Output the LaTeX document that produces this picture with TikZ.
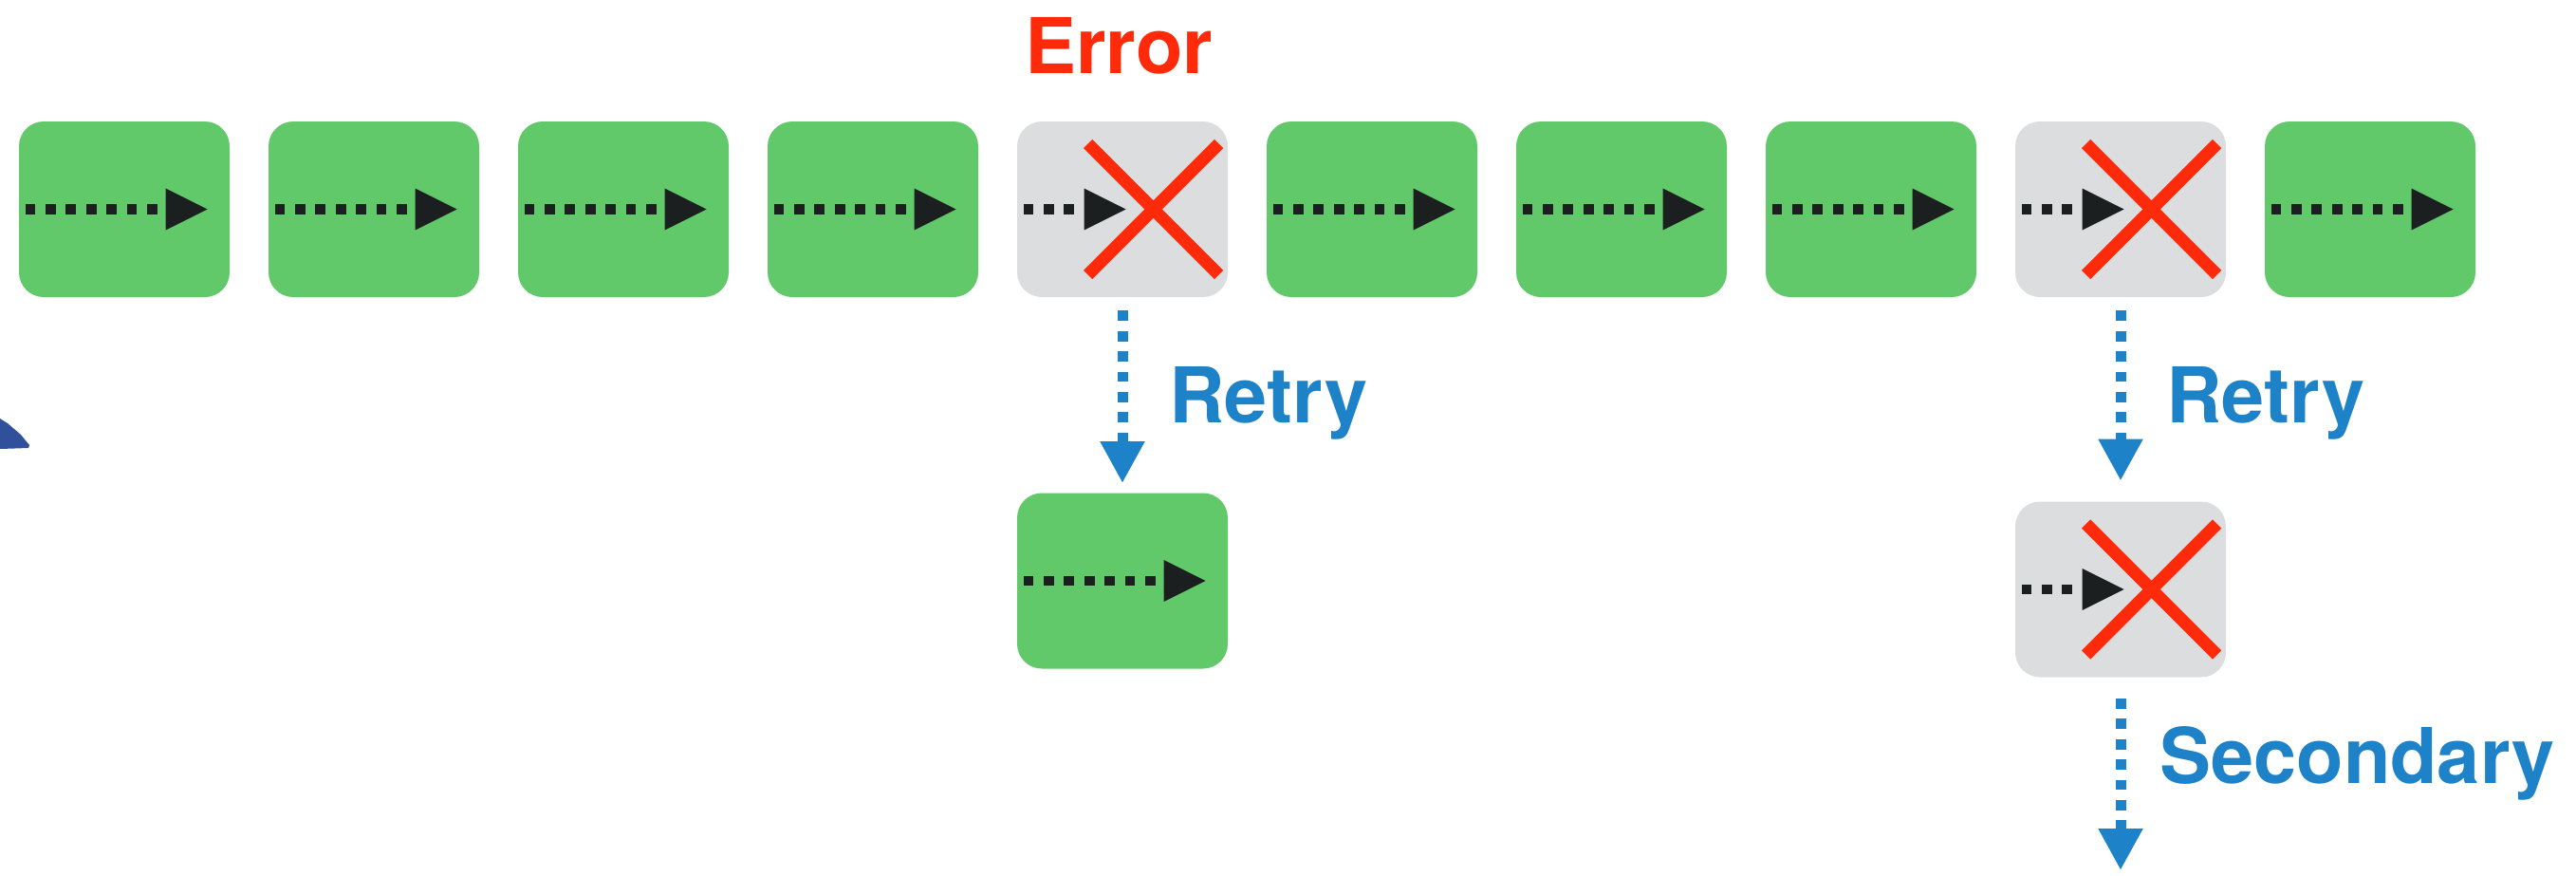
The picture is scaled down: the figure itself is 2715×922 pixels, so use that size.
\documentclass[tikz,border=0pt]{standalone}
\usepackage{fontspec}
\setmainfont{TeX Gyre Heros}
\usetikzlibrary{arrows.meta}
\definecolor{boxgreen}{HTML}{62C96A}
\definecolor{boxgrey}{HTML}{DCDDDF}
\definecolor{errred}{HTML}{FF2A0A}
\definecolor{flowblue}{HTML}{1E82C8}
\definecolor{inkblack}{HTML}{1B1F1F}
\definecolor{blobblue}{HTML}{30509C}
\tikzset{
  stage/.style={rectangle, rounded corners=13pt, minimum width=111pt, minimum height=92.5pt, inner sep=0pt, draw=none},
  okstage/.style={stage, fill=boxgreen},
  failstage/.style={stage, fill=boxgrey},
  innerdots/.style={draw=inkblack, line width=5.35pt, dash pattern=on 5.35pt off 5.35pt},
  innerhead/.style={fill=inkblack},
  cross/.style={draw=errred, line width=6.5pt},
  retryflow/.style={draw=flowblue, line width=5.5pt, dash pattern=on 5.4pt off 5.3pt, -{Triangle[length=22pt,width=22pt]}},
  bigtext/.style={inner sep=0pt, anchor=base west, font=\fontsize{40.5}{48}\selectfont\bfseries},
}
\newcommand{\okarrow}[1]{%
  \draw[innerdots] (#1.west) ++(7,0) -- ++(139,0);
  \fill[innerhead] (#1.west) ++(155,-22) -- ++(44,22) -- ++(-44,22) -- cycle;}
\newcommand{\failarrow}[1]{%
  \draw[innerdots] (#1.west) ++(7,0) -- ++(53.5,0);
  \fill[innerhead] (#1.west) ++(71,-22) -- ++(44,22) -- ++(-44,22) -- cycle;
  \draw[cross] (#1.west) ++(75,-69) -- ++(138,138);
  \draw[cross] (#1.west) ++(75,69) -- ++(138,-138);}
\begin{document}
\begin{tikzpicture}[x=0.5pt,y=-0.5pt]
\useasboundingbox (0,0) rectangle (2715,922);
% top row
\node[okstage] (a1) at (131,220.5) {};
\node[okstage] (a2) at (394,220.5) {};
\node[okstage] (a3) at (657,220.5) {};
\node[okstage] (a4) at (920,220.5) {};
\node[failstage] (e1) at (1183,220.5) {};
\node[okstage] (a5) at (1446,220.5) {};
\node[okstage] (a6) at (1709,220.5) {};
\node[okstage] (a7) at (1972,220.5) {};
\node[failstage] (e2) at (2235,220.5) {};
\node[okstage] (a8) at (2498,220.5) {};
% retry row
\node[okstage] (r1) at (1183,612) {};
\node[failstage] (r2) at (2235,621) {};
\foreach \n in {a1,a2,a3,a4,a5,a6,a7,a8,r1} {\okarrow{\n}}
\foreach \n in {e1,e2,r2} {\failarrow{\n}}
% connectors
\coordinate (secend) at (2235,917);
\draw[retryflow] ([yshift=-7pt]e1.south) -- ([yshift=5pt]r1.north);
\draw[retryflow] ([yshift=-7pt]e2.south) -- ([yshift=10.75pt]r2.north);
\draw[retryflow] ([yshift=-11pt]r2.south) -- (secend);
% texts
\node[bigtext, text=errred] (errlbl) at (1080,77) {Error};
\node[bigtext, text=flowblue] (retry1) at (1232,445) {Retry};
\node[bigtext, text=flowblue] (retry2) at (2283,445) {Retry};
\node[bigtext, text=flowblue] (second) at (2276,825) {Secondary};
% clipped fragment at left edge
\fill[blobblue] (0,441) -- (8,446) -- (22,458) -- (31,469) -- (30,472) -- (0,473) -- cycle;
\end{tikzpicture}
\end{document}
